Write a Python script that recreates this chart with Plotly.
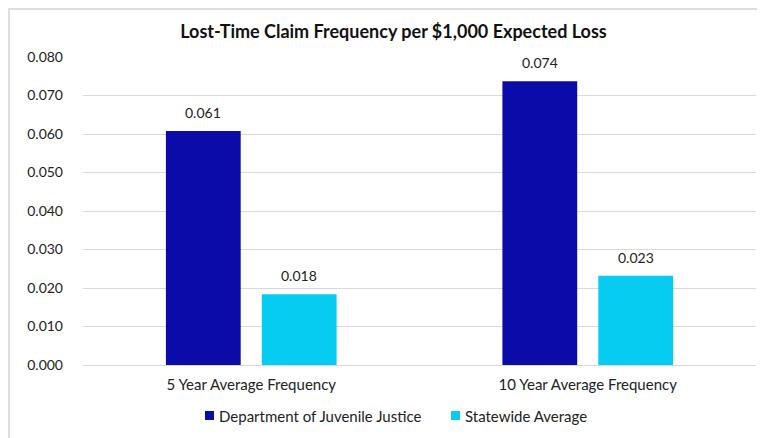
import plotly.graph_objects as go

categories = ["5 Year Average Frequency", "10 Year Average Frequency"]
series_names = ["Department of Juvenile Justice", "Statewide Average"]
djj_values = [0.0608, 0.0737]
state_values = [0.0184, 0.0232]
y_ticks = [0.0, 0.01, 0.02, 0.03, 0.04, 0.05, 0.06, 0.07, 0.08]
colors = ["#0B0BAA", "#07CCF2"]

W, H = 757, 430
L, R, T, B = 75, 9, 49, 73
PW, PH = W - L - R, H - T - B
BARGAP, GROUPGAP = 0.43, 0.22

def px_x(p):
    return (p - L) / PW

def px_y(p):
    return (H - B - p) / PH

fig = go.Figure()
series = [djj_values, state_values]
for name, vals, col in zip(series_names, series, colors):
    fig.add_trace(go.Bar(
        x=categories, y=vals, name=name, marker=dict(color=col, line=dict(width=0)),
    ))

# value labels above bars (offset to each bar's slot in the group)
slot_px = PW / len(categories) * (1 - BARGAP) / len(series)
annotations = []
for i, vals in enumerate(series):
    xs = (i - (len(series) - 1) / 2) * slot_px
    for cat, v in zip(categories, vals):
        annotations.append(dict(x=cat, y=v, text=f"{v:.3f}", showarrow=False,
                                xanchor="center", yanchor="bottom", xshift=xs, yshift=8,
                                font=dict(size=14, color="#222222")))

# legend drawn as squares + text
legend_x = [197, 443]
shapes = []
for name, col, lx in zip(series_names, colors, legend_x):
    shapes.append(dict(type="rect", xref="paper", yref="paper",
                       x0=px_x(lx), x1=px_x(lx + 9), y0=px_y(412), y1=px_y(403),
                       fillcolor=col, line=dict(width=0)))
    annotations.append(dict(text=name, xref="paper", yref="paper", x=px_x(lx + 12), y=px_y(408),
                            xanchor="left", yanchor="middle", showarrow=False,
                            font=dict(size=15, color="#222222")))

# light border (top and left)
shapes.append(dict(type="line", xref="paper", yref="paper", x0=px_x(0), x1=px_x(W), y0=px_y(1), y1=px_y(1),
                   line=dict(color="#DEDEDE", width=2), layer="below"))
shapes.append(dict(type="line", xref="paper", yref="paper", x0=px_x(1), x1=px_x(1), y0=px_y(0), y1=px_y(H),
                   line=dict(color="#DEDEDE", width=2), layer="below"))

fig.update_layout(
    width=W, height=H,
    paper_bgcolor="white", plot_bgcolor="white",
    font=dict(family="Lato, Carlito, sans-serif", size=14, color="#222222"),
    title=dict(text="<b>Lost-Time Claim Frequency per $1,000 Expected Loss</b>",
               x=385.5 / W, xanchor="center", y=1 - 24 / H, yanchor="middle",
               font=dict(size=18, color="#111111")),
    margin=dict(l=L, r=R, t=T, b=B, autoexpand=False),
    barmode="group", bargap=BARGAP, bargroupgap=GROUPGAP,
    showlegend=False,
    xaxis=dict(showgrid=False, showline=True, linecolor="#D9D9D9", linewidth=1,
               ticks="", tickfont=dict(size=15), ticklabelstandoff=6),
    yaxis=dict(range=[0, 0.08], tickvals=y_ticks, ticktext=[f"{t:.3f}" for t in y_ticks],
               showgrid=True, gridcolor="#D9D9D9", gridwidth=1, zeroline=False,
               ticks="", ticklabelstandoff=19, tickfont=dict(size=14)),
    shapes=shapes,
    annotations=annotations,
)
fig.write_html("out.html")
